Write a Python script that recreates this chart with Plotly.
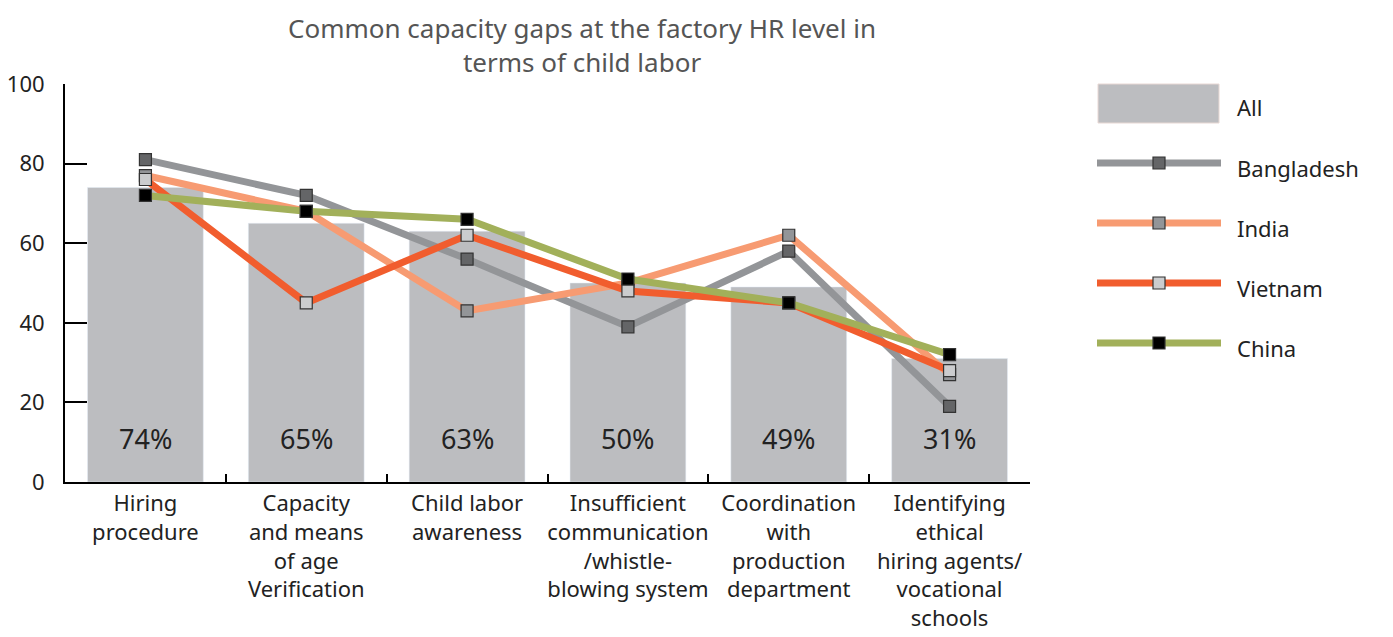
import plotly.graph_objects as go

categories = ["Hiring<br>procedure", "Capacity<br>and means<br>of age<br>Verification",
              "Child labor<br>awareness", "Insufficient<br>communication<br>/whistle-<br>blowing system",
              "Coordination<br>with<br>production<br>department",
              "Identifying<br>ethical<br>hiring agents/<br>vocational<br>schools"]
all_vals = [74, 65, 63, 50, 49, 31]
bangladesh = [81, 72, 56, 39, 58, 19]
india = [77, 68, 43, 50, 62, 27]
vietnam = [76, 45, 62, 48, 45, 28]
china = [72, 68, 66, 51, 45, 32]

series = [
    ("Bangladesh", bangladesh, "#939598", "#646567"),
    ("India", india, "#F79B72", "#939598"),
    ("Vietnam", vietnam, "#F15D2E", "#CBCCCE"),
    ("China", china, "#A2B05A", "#000000"),
]

FONT = "Noto Sans"

# plot area in pixels (used for custom legend / title placement)
L, R, T, B = 65, 1030, 84, 482


def px(x):
    return (x - L) / (R - L)


def py(y):
    return (B - y) / (B - T)


fig = go.Figure()
fig.add_trace(go.Bar(x=categories, y=all_vals, marker_color="#BCBDC0", width=0.72,
                     name="All", showlegend=False))
for name, vals, lc, mc in series:
    fig.add_trace(go.Scatter(x=categories, y=vals, mode="lines+markers", name=name,
                             line=dict(color=lc, width=7),
                             marker=dict(symbol="square", size=12, color=mc,
                                         line=dict(color="#333333", width=1.2)),
                             showlegend=False))

# percent labels inside bars
for c, v in zip(categories, all_vals):
    fig.add_annotation(x=c, y=11, text=f"{v}%", showarrow=False,
                       font=dict(size=27, color="#222222", family=FONT))

# title
fig.add_annotation(xref="paper", yref="paper", x=px(582), y=py(45),
                   text="Common capacity gaps at the factory HR level in<br>terms of child labor",
                   showarrow=False, xanchor="center", yanchor="middle",
                   font=dict(size=26, color="#555555", family=FONT))

# custom legend
shapes = []
shapes.append(dict(type="rect", xref="paper", yref="paper",
                   x0=px(1098), x1=px(1219), y0=py(123), y1=py(84),
                   fillcolor="#BCBDC0", line=dict(color="#E8D8D4", width=1)))
fig.add_annotation(xref="paper", yref="paper", x=px(1235), y=py(107), text="All",
                   showarrow=False, xanchor="left", yanchor="middle",
                   font=dict(size=22, color="#222222", family=FONT))
for i, (name, vals, lc, mc) in enumerate(series):
    ly = 163 + 60 * i
    shapes.append(dict(type="line", xref="paper", yref="paper",
                       x0=px(1097), x1=px(1221), y0=py(ly), y1=py(ly),
                       line=dict(color=lc, width=7)))
    shapes.append(dict(type="rect", xref="paper", yref="paper",
                       x0=px(1153), x1=px(1165), y0=py(ly + 6), y1=py(ly - 6),
                       fillcolor=mc, line=dict(color="#333333", width=1.2)))
    fig.add_annotation(xref="paper", yref="paper", x=px(1235), y=py(ly + 5), text=name,
                       showarrow=False, xanchor="left", yanchor="middle",
                       font=dict(size=22, color="#222222", family=FONT))

fig.update_layout(
    width=1393, height=637,
    margin=dict(l=L, r=1393 - R, t=T, b=637 - B, autoexpand=False),
    paper_bgcolor="white", plot_bgcolor="white",
    font=dict(family=FONT, color="#222222", size=22),
    shapes=shapes,
    bargap=0.28,
)
fig.update_xaxes(showline=True, linecolor="black", linewidth=2, ticks="inside",
                 tickson="boundaries", ticklen=8, tickcolor="black", tickwidth=2,
                 showgrid=False, tickfont=dict(size=22), range=[-0.5, 5.5],
                 tickangle=0, automargin=False, ticklabelstandoff=1)
fig.update_yaxes(showline=True, linecolor="black", linewidth=2, ticks="inside",
                 ticklen=22, tickcolor="black", tickwidth=2, showgrid=False,
                 range=[0, 100], dtick=20, zeroline=False, tickfont=dict(size=22),
                 ticklabelstandoff=14, automargin=False)

fig.write_html("out.html", config={"displayModeBar": False},
               post_script="document.body.style.margin='0';")
